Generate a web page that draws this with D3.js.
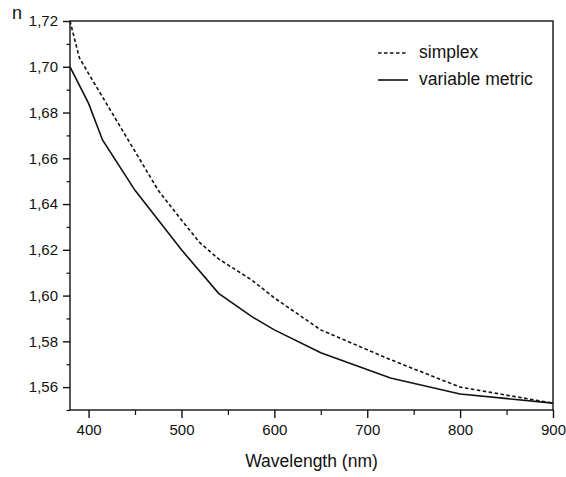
<!DOCTYPE html>
<html><head><meta charset="utf-8">
<script src="https://cdn.jsdelivr.net/npm/d3@7/dist/d3.min.js"></script>
<style>body{margin:0;background:#fff}svg{display:block}text{font-family:"Liberation Sans",Arial,sans-serif;fill:#111}</style>
</head><body><svg id="c" width="566" height="477"></svg>
<script>
const simplexWl = [380, 390, 400, 450, 475, 500, 520, 540, 575, 600, 650, 725, 800, 900];
const simplexN  = [1.720, 1.704, 1.697, 1.663, 1.646, 1.633, 1.623, 1.616, 1.607, 1.599, 1.585, 1.572, 1.560, 1.553];
const vmWl = [380, 400, 415, 450, 500, 540, 575, 600, 650, 725, 800, 900];
const vmN  = [1.700, 1.684, 1.668, 1.646, 1.620, 1.601, 1.591, 1.585, 1.575, 1.564, 1.557, 1.553];
const xTicks = [400, 500, 600, 700, 800, 900];
const xMinor = [450, 550, 650, 750, 850];
const yTicks = [1.56, 1.58, 1.60, 1.62, 1.64, 1.66, 1.68, 1.70, 1.72];
const yMinor = [1.55, 1.57, 1.59, 1.61, 1.63, 1.65, 1.67, 1.69, 1.71];
const legendLabels = ["simplex", "variable metric"];

const L = 70, R = 553, T = 21, B = 410;
const svg = d3.select("#c");
const x = d3.scaleLinear().domain([380, 900]).range([L, R]);
const y = d3.scaleLinear().domain([1.55, 1.72]).range([B, T]);
const fmt = d => d3.format(".2f")(d).replace(".", ",");

// frame
svg.append("rect").attr("x", L).attr("y", T).attr("width", R - L).attr("height", B - T)
  .attr("fill", "none").attr("stroke", "#111").attr("stroke-width", 1.4);

// x axis
const xa = svg.append("g").attr("transform", `translate(0,${B})`)
  .call(d3.axisBottom(x).tickValues(xTicks).tickSize(8).tickPadding(6).tickFormat(d3.format("d")));
xa.select(".domain").remove();
xa.selectAll("line").attr("stroke", "#111").attr("stroke-width", 1.4);
xa.selectAll("text").style("font-size", "15px").attr("fill", "#111");
const xm = svg.append("g").attr("transform", `translate(0,${B})`)
  .call(d3.axisBottom(x).tickValues(xMinor).tickSize(5).tickFormat(""));
xm.select(".domain").remove();
xm.selectAll("line").attr("stroke", "#111").attr("stroke-width", 1.2);

// y axis
const ya = svg.append("g").attr("transform", `translate(${L},0)`)
  .call(d3.axisLeft(y).tickValues(yTicks).tickSize(7).tickPadding(5).tickFormat(fmt));
ya.select(".domain").remove();
ya.selectAll("line").attr("stroke", "#111").attr("stroke-width", 1.4);
ya.selectAll("text").style("font-size", "15px").attr("fill", "#111");
const ym = svg.append("g").attr("transform", `translate(${L},0)`)
  .call(d3.axisLeft(y).tickValues(yMinor).tickSize(3.5).tickFormat(""));
ym.select(".domain").remove();
ym.selectAll("line").attr("stroke", "#111").attr("stroke-width", 1.2);

// titles
svg.append("text").attr("x", (L + R) / 2).attr("y", 467).attr("text-anchor", "middle")
  .style("font-size", "17.5px").text("Wavelength (nm)");
svg.append("text").attr("x", 12).attr("y", 19).style("font-size", "18px").text("n");

// lines
const line = d3.line().x(d => x(d[0])).y(d => y(d[1]));
svg.append("path").datum(simplexWl.map((w, i) => [w, simplexN[i]]))
  .attr("d", line).attr("fill", "none").attr("stroke", "#111").attr("stroke-width", 1.6)
  .attr("stroke-dasharray", "3.5,2.5");
svg.append("path").datum(vmWl.map((w, i) => [w, vmN[i]]))
  .attr("d", line).attr("fill", "none").attr("stroke", "#111").attr("stroke-width", 1.6);

// legend
const lg = svg.append("g");
[0, 1].forEach(i => {
  const yy = 53 + i * 27;
  lg.append("line").attr("x1", 378).attr("x2", 408).attr("y1", yy).attr("y2", yy)
    .attr("stroke", "#111").attr("stroke-width", 1.6)
    .attr("stroke-dasharray", i === 0 ? "3.5,2.5" : null);
  lg.append("text").attr("x", 419).attr("y", yy + 5).style("font-size", "17.5px").text(legendLabels[i]);
});
</script></body></html>
